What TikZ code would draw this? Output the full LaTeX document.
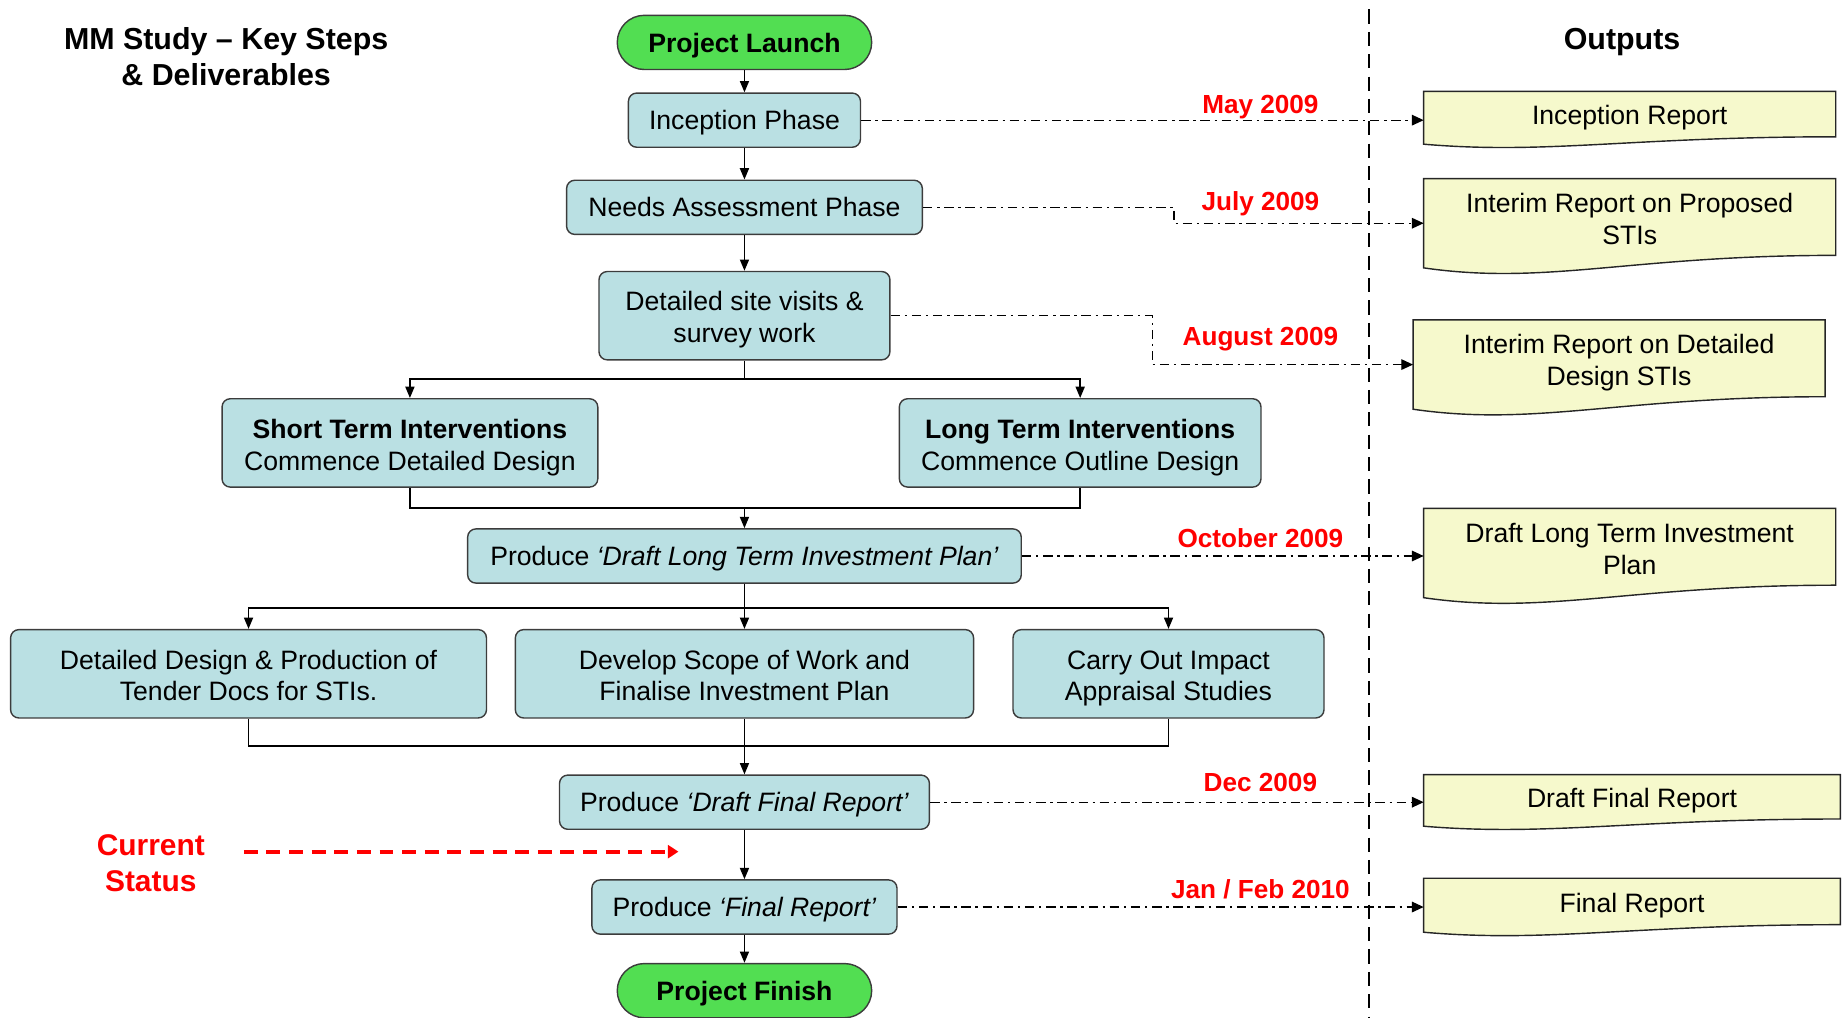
\documentclass[tikz,border=0pt]{standalone}
\usepackage{fontspec}
\setmainfont{Liberation Sans}
\usetikzlibrary{arrows.meta,calc,backgrounds}
\definecolor{boxblue}{RGB}{186,224,227}
\definecolor{launchgreen}{RGB}{82,222,82}
\definecolor{docyellow}{RGB}{246,249,204}
\definecolor{edgegray}{RGB}{60,60,60}
\newcommand\ml[1]{\begin{tabular}[b]{@{}c@{}}#1\end{tabular}}
\tikzset{
  every node/.style={font=\fontsize{11.3}{13.5}\selectfont},
  oneline/.style={text height=10.7pt, text depth=2.6pt},
  twoline/.style={text height=25.6pt, text depth=2.6pt},
  doconeline/.style={text height=8.4pt, text depth=2.6pt},
  doctwoline/.style={text height=20.6pt, text depth=2.6pt},
  stepbox/.style={draw=edgegray, fill=boxblue, line width=0.6pt, rounded corners=3.5pt, inner sep=0pt},
  term/.style={draw=edgegray, fill=launchgreen, line width=0.6pt, rounded corners=11.5pt, minimum width=108pt, minimum height=23pt, inner sep=0pt, text height=11.2pt, text depth=2.6pt, font=\fontsize{11.3}{13.5}\selectfont\bfseries},
  docnode/.style={inner sep=0pt},
  docline/.style={draw=black!85, fill=docyellow, line width=0.6pt},
  flow/.style={draw=black, line width=0.75pt, -{Triangle[length=4.8pt,width=3.8pt]}},
  flowplain/.style={draw=black, line width=0.75pt},
  dashdot/.style={draw=black, line width=0.55pt, dash pattern=on 4pt off 2pt on 1pt off 2pt, -{Triangle[length=5pt,width=4.5pt]}},
  datelbl/.style={oneline, text=red, font=\fontsize{11.1}{13}\selectfont\bfseries},
  headlbl/.style={font=\fontsize{12.9}{15.5}\selectfont\bfseries},
  statuslbl/.style={text=red, text height=26pt, text depth=4pt, font=\fontsize{12.7}{15.5}\selectfont\bfseries},
  divider/.style={draw=black, line width=1pt, dash pattern=on 6pt off 3.5pt},
  statusarrow/.style={draw=red, line width=1.7pt, dash pattern=on 5.9pt off 3.7pt, -{Triangle[length=4.5pt,width=5.5pt]}}
}
\newcommand\docoutline[1]{%
  \draw[docline] let \p1=(#1.north west), \p2=(#1.south east) in
    (\x1,\y1) -- (\x2,\y1) -- (\x2,{\y2+0.14*(\y1-\y2)})
    .. controls ({\x1+0.5*(\x2-\x1)},{\y2+0.14*(\y1-\y2)}) and ({\x1+0.3*(\x2-\x1)},{\y2-0.2*(\y1-\y2)}) .. (\x1,\y2) -- cycle;}
\begin{document}
\begin{tikzpicture}[x=0.5pt,y=-0.5pt]
\useasboundingbox (0,0) rectangle (1568,864);

% headings
\node[headlbl, text height=26pt, text depth=4pt] (title) at (192,51) {\ml{MM Study – Key Steps\\\& Deliverables}};
\node[headlbl, text height=11.5pt, text depth=2.6pt] (outputs) at (1377,33) {Outputs};

% divider
\coordinate (divtop) at (1162,8);
\coordinate (divbot) at (1162,864);
\draw[divider] (divtop) -- (divbot);

% flow nodes
\node[term] (launch) at (632,36) {Project Launch};
\node[stepbox, oneline, minimum width=98.5pt, minimum height=23pt] (inc) at (632,102) {Inception Phase};
\node[stepbox, oneline, minimum width=151pt, minimum height=23pt] (na) at (632,176) {Needs Assessment Phase};
\node[stepbox, twoline, minimum width=123.5pt, minimum height=37.5pt] (site) at (632,268) {\ml{Detailed site visits \&\\survey work}};
\node[stepbox, twoline, minimum width=159.5pt, minimum height=37.5pt] (st) at (348,376) {\ml{\textbf{Short Term Interventions}\\Commence Detailed Design}};
\node[stepbox, twoline, minimum width=153.5pt, minimum height=37.5pt] (lt) at (917,376) {\ml{\textbf{Long Term Interventions}\\Commence Outline Design}};
\node[stepbox, oneline, minimum width=235pt, minimum height=23pt] (ltip) at (632,472) {Produce \textit{‘Draft Long Term Investment Plan’}};
\node[stepbox, twoline, minimum width=202pt, minimum height=37.5pt] (dd) at (211,572) {\ml{Detailed Design \& Production of\\Tender Docs for STIs.}};
\node[stepbox, twoline, minimum width=194.5pt, minimum height=37.5pt] (ds) at (632,572) {\ml{Develop Scope of Work and\\Finalise Investment Plan}};
\node[stepbox, twoline, minimum width=132pt, minimum height=37.5pt] (ca) at (992,572) {\ml{Carry Out Impact\\Appraisal Studies}};
\node[stepbox, oneline, minimum width=157pt, minimum height=23pt] (dfr) at (632,681) {Produce \textit{‘Draft Final Report’}};
\node[stepbox, oneline, minimum width=129.5pt, minimum height=23pt] (fr) at (632,770) {Produce \textit{‘Final Report’}};
\node[term] (finish) at (632,841) {Project Finish};

% output documents
\node[docnode, doconeline, minimum width=174.5pt, minimum height=22pt] (ir) at (1383.5,100) {Inception Report};
\node[docnode, doctwoline, minimum width=174.5pt, minimum height=37.5pt] (ip) at (1383.5,189.5) {\ml{Interim Report on Proposed\\STIs}};
\node[docnode, doctwoline, minimum width=174.5pt, minimum height=37.5pt] (id) at (1374.5,309.5) {\ml{Interim Report on Detailed\\Design STIs}};
\node[docnode, doctwoline, minimum width=174.5pt, minimum height=37.5pt] (dl) at (1383.5,469.5) {\ml{Draft Long Term Investment\\Plan}};
\node[docnode, doconeline, minimum width=176.5pt, minimum height=21.5pt] (dfo) at (1385.5,679.5) {Draft Final Report};
\node[docnode, doconeline, minimum width=176.5pt, minimum height=22.5pt] (fro) at (1385.5,768.5) {Final Report};
\begin{scope}[on background layer]
  \docoutline{ir}
  \docoutline{ip}
  \docoutline{id}
  \docoutline{dl}
  \docoutline{dfo}
  \docoutline{fro}
\end{scope}

% date labels
\node[datelbl] (d1) at (1070,88) {May 2009};
\node[datelbl] (d2) at (1070,171) {July 2009};
\node[datelbl] (d3) at (1070,285) {August 2009};
\node[datelbl] (d4) at (1070,457) {October 2009};
\node[datelbl] (d5) at (1070,664) {Dec 2009};
\node[datelbl] (d6) at (1070,755) {Jan / Feb 2010};

% current status
\node[statuslbl] (cs) at (128,735) {\ml{Current\\Status}};
\coordinate (csa) at (207,723);
\coordinate (csb) at (576,723);
\draw[statusarrow] (csa) -- (csb);

% junctions
\coordinate (j1) at (632,322);
\coordinate (j2) at (632,431);
\coordinate (j3) at (632,516);
\coordinate (j4) at (632,633);

% main flow
\draw[flow] (launch) -- (inc);
\draw[flow] (inc) -- (na);
\draw[flow] (na) -- (site);
\draw[flowplain] (site.south) -- (j1);
\draw[flow] (j1) -| (st.north);
\draw[flow] (j1) -| (lt.north);
\draw[flowplain] (st.south) |- (j2);
\draw[flowplain] (lt.south) |- (j2);
\draw[flow] (j2) -- (ltip.north);
\draw[flowplain] (ltip.south) -- (j3);
\draw[flow] (j3) -| (dd.north);
\draw[flow] (j3) -- (ds.north);
\draw[flow] (j3) -| (ca.north);
\draw[flowplain] (dd.south) |- (j4);
\draw[flowplain] (ca.south) |- (j4);
\draw[flowplain] (ds.south) -- (j4);
\draw[flow] (j4) -- (dfr.north);
\draw[flow] (dfr) -- (fr);
\draw[flow] (fr) -- (finish);

% deliverable connectors
\draw[dashdot] (inc.east) -- (inc.east -| ir.west);
\draw[dashdot] (na.east) -- ++(213,0) |- (ip.west);
\draw[dashdot] (site.east) -- ++(222,0) |- (id.west);
\draw[dashdot] (ltip.east) -- (ltip.east -| dl.west);
\draw[dashdot] (dfr.east) -- (dfr.east -| dfo.west);
\draw[dashdot] (fr.east) -- (fr.east -| fro.west);
\end{tikzpicture}
\end{document}
